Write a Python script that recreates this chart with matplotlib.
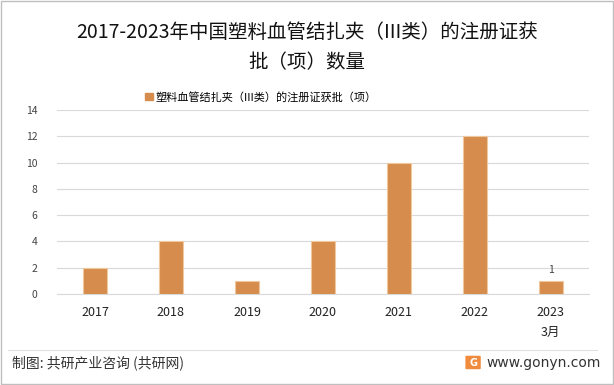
import matplotlib.pyplot as plt
from matplotlib.patches import Rectangle, FancyBboxPatch
from matplotlib.lines import Line2D

plt.rcParams['font.family'] = ['Noto Sans CJK SC', 'DejaVu Sans']

# 数据
years = ['2017', '2018', '2019', '2020', '2021', '2022', '2023\n3月']
counts = [2, 4, 1, 4, 10, 12, 1]
series_name = '塑料血管结扎夹（III类）的注册证获批（项）'
title = '2017-2023年中国塑料血管结扎夹（III类）的注册证获\n批（项）数量'

fig = plt.figure(figsize=(6.14, 3.85), dpi=100)
ax = fig.add_axes([0.0928, 0.2364, 0.8662, 0.4779])

bars = ax.bar(range(len(years)), counts, width=0.32, color='#D68C4C',
              edgecolor='#F0C8A0', linewidth=0.8, label=series_name, zorder=3)
# 只标注最后一根柱子
ax.bar_label(bars, labels=['' for _ in counts[:-1]] + [str(counts[-1])],
             padding=4, fontsize=7.5, color='#404040')

ax.set_xlim(-0.5, len(years) - 0.5)
ax.set_ylim(0, 14)
ax.set_yticks(range(0, 15, 2))
ax.set_xticks(range(len(years)))
ax.set_xticklabels(years, fontsize=9, color='#222222', linespacing=1.6)
ax.tick_params(axis='y', labelsize=7.5, colors='#444444', length=0, pad=14)
ax.tick_params(axis='x', length=0, pad=9)
ax.grid(axis='y', color='#D9D9D9', linewidth=0.8, zorder=0)
for s in ['left', 'right', 'top']:
    ax.spines[s].set_visible(False)
ax.spines['bottom'].set_color('#D9D9D9')

fig.text(0.5, 0.876, title, ha='center', va='center', fontsize=14,
         color='#111111', linespacing=1.55)
fig.legend(handles=[Rectangle((0, 0), 1, 1, color='#D68C4C')], labels=[series_name],
           loc='center', bbox_to_anchor=(0.425, 0.748), frameon=False, fontsize=8,
           handlelength=0.7, handleheight=0.7, handletextpad=0.3)

# 底部
fig.add_artist(Line2D([0.013, 0.973], [0.091, 0.091], color='#E0E0E0', linewidth=0.8))
fig.text(0.019, 0.058, '制图: 共研产业咨询 (共研网)', ha='left', va='center',
         fontsize=10, color='#333333')
fig.text(0.979, 0.058, 'www.gonyn.com', ha='right', va='center',
         fontsize=10, color='#333333', family='DejaVu Sans')
fig.add_artist(FancyBboxPatch((0.760, 0.043), 0.021, 0.031, boxstyle='round,pad=0.002',
                              transform=fig.transFigure, facecolor='#F08A3C', edgecolor='none'))
fig.text(0.7705, 0.058, 'G', ha='center', va='center', fontsize=7, color='white',
         fontweight='bold', family='DejaVu Sans')

# 外框
fig.add_artist(Rectangle((0.002, 0.003), 0.996, 0.994, transform=fig.transFigure,
                         fill=False, edgecolor='#BFBFBF', linewidth=1))

fig.savefig('out.png', dpi=100)
